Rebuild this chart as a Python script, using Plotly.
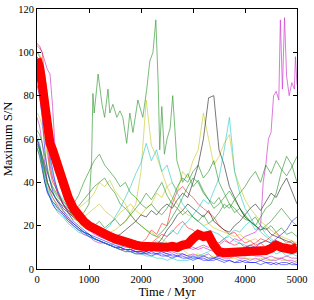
import plotly.graph_objects as go

# Common time grid (Myr)
T = [0, 50, 100, 150, 200, 250, 300, 350, 400, 450, 500,
     600, 700, 800, 900, 1000,
     1100, 1200, 1300, 1400, 1500, 1600, 1700, 1800, 1900, 2000,
     2100, 2200, 2300, 2400, 2500, 2600, 2700, 2800, 2900, 3000,
     3100, 3200, 3300, 3400, 3500, 3600, 3700, 3800, 3900, 4000,
     4100, 4200, 4300, 4400, 4500, 4600, 4700, 4800, 4900, 5000]

run_a = [104, 103, 100, 88, 70, 58, 50, 45, 42, 38, 36,
         32, 28, 25, 22, 20,
         18, 17, 15, 16, 14, 13, 12, 13, 11, 12,
         14, 18, 16, 21, 20, 30, 36, 38, 35, 33,
         30, 28, 26, 24, 20, 18, 16, 17, 14, 12,
         13, 11, 12, 10, 11, 9, 10, 8, 9, 8]
run_b = [103, 102, 100, 96, 92, 90, 75, 55, 45, 40, 37,
         33, 28, 24, 21, 19,
         17, 15, 14, 13, 12, 11, 10, 10, 9, 9,
         8, 9, 8, 8, 7, 8, 7, 7, 6, 7,
         6, 6, 7, 5, 6, 5, 5, 6, 5, 5,
         4, 5, 4, 5, 4, 4, 5, 4, 4, 3]
run_c = [100, 99, 96, 85, 72, 60, 52, 46, 43, 40, 38,
         33, 30, 28, 30, 32,
         35, 40, 38, 41, 36, 33, 30, 25, 22, 20,
         18, 17, 15, 14, 12, 10, 8, 9, 7, 6,
         7, 6, 5, 6, 5, 6, 5, 5, 4, 5,
         5, 4, 5, 4, 4, 5, 4, 4, 3, 4]
run_d = [72, 70, 66, 60, 52, 46, 42, 38, 35, 32, 30,
         26, 24, 21, 19, 18,
         17, 18, 16, 17, 18, 20, 22, 26, 30, 45,
         78, 57, 52, 45, 38, 33, 30, 27, 25, 24,
         22, 20, 21, 19, 18, 17, 16, 15, 16, 14,
         13, 14, 12, 13, 12, 11, 12, 10, 11, 10]
run_e = [58, 55, 50, 44, 38, 35, 33, 31, 30, 28, 27,
         25, 23, 22, 24, 26,
         28, 30, 27, 25, 23, 26, 28, 30, 27, 25,
         28, 30, 35, 33, 38, 40, 36, 45, 42, 50,
         55, 72, 60, 48, 52, 58, 62, 45, 38, 32,
         28, 25, 22, 20, 18, 16, 15, 14, 13, 12]
run_f = [60, 57, 52, 45, 40, 37, 35, 33, 31, 30, 28,
         26, 24, 22, 20, 18,
         17, 16, 15, 14, 15, 16, 18, 20, 22, 25,
         24, 27, 25, 28, 30, 28, 32, 35, 33, 40,
         48, 60, 79, 80, 55, 48, 38, 33, 28, 24,
         22, 20, 18, 19, 16, 15, 14, 13, 12, 11]
run_g = [56, 52, 46, 40, 36, 33, 31, 30, 28, 27, 26,
         23, 21, 19, 17, 16,
         14, 13, 12, 11, 10, 9, 8, 8, 7, 7,
         8, 9, 11, 14, 18, 21, 25, 27, 30, 28,
         26, 24, 27, 22, 20, 18, 17, 20, 22, 25,
         28, 30, 27, 31, 35, 33, 38, 42, 36, 30]
run_h = [96, 94, 88, 75, 60, 50, 44, 40, 36, 34, 32,
         28, 25, 22, 20, 18,
         17, 16, 18, 20, 24, 28, 33, 38, 44, 49,
         58, 50, 55, 45, 48, 40, 35, 30, 27, 24,
         22, 20, 18, 17, 16, 14, 15, 13, 12, 11,
         10, 9, 10, 8, 9, 7, 8, 6, 7, 6]
run_i = [62, 58, 50, 42, 36, 33, 30, 28, 26, 25, 24,
         21, 19, 17, 16, 15,
         14, 13, 12, 11, 12, 10, 11, 9, 10, 9,
         10, 11, 13, 12, 15, 18, 16, 20, 22, 25,
         28, 32, 30, 36, 42, 55, 70, 45, 35, 28,
         24, 20, 17, 15, 13, 12, 10, 9, 8, 7]
run_j = [100, 98, 95, 90, 80, 66, 56, 48, 42, 38, 35,
         32, 30, 34, 40, 45,
         50, 53, 48, 45, 42, 38, 40, 35, 33, 30,
         28, 30, 27, 25, 28, 32, 38, 42, 40, 45,
         48, 42, 45, 50, 40, 35, 30, 28, 25, 23,
         22, 20, 24, 28, 30, 35, 45, 52, 48, 40]
run_k = [58, 56, 52, 48, 44, 40, 37, 35, 33, 32, 30,
         28, 27, 29, 32, 35,
         38, 40, 42, 38, 35, 30, 28, 25, 22, 20,
         18, 16, 15, 17, 20, 24, 28, 33, 38, 42,
         40, 35, 32, 28, 30, 33, 36, 32, 28, 25,
         22, 20, 18, 20, 22, 25, 28, 25, 22, 20]
run_l = [98, 96, 92, 80, 65, 52, 45, 40, 36, 33, 30,
         26, 22, 20, 18, 16,
         14, 13, 12, 11, 10, 10, 9, 9, 8, 8,
         7, 8, 7, 7, 6, 7, 6, 6, 5, 6,
         5, 6, 5, 5, 6, 7, 6, 8, 9, 10,
         11, 10, 12, 13, 12, 14, 16, 18, 22, 24]
run_m = [60, 55, 48, 40, 35, 33, 30, 28, 27, 26, 25,
         22, 20, 18, 17, 16,
         15, 14, 13, 12, 11, 10, 9, 9, 8, 8,
         8, 7, 7, 8, 7, 6, 6, 7, 6, 5,
         5, 5, 4, 4, 5, 4, 4, 3, 4, 3,
         3, 3, 4, 3, 3, 2, 3, 3, 2, 2]
run_n = [95, 92, 85, 70, 55, 45, 40, 38, 35, 33, 30,
         27, 25, 23, 21, 19,
         17, 16, 15, 14, 13, 12, 11, 12, 11, 10,
         11, 12, 14, 16, 15, 17, 20, 22, 19, 18,
         16, 14, 15, 13, 12, 14, 12, 11, 12, 10,
         11, 12, 14, 13, 15, 17, 14, 12, 13, 11]
run_o = [85, 80, 70, 55, 45, 40, 36, 33, 31, 29, 27,
         24, 21, 19, 17, 15,
         14, 13, 12, 11, 10, 9, 9, 8, 8, 7,
         7, 6, 7, 6, 6, 5, 6, 5, 5, 4,
         5, 4, 4, 5, 4, 3, 4, 3, 3, 4,
         3, 3, 2, 3, 2, 3, 2, 2, 3, 2]
run_p = [70, 66, 58, 48, 40, 36, 33, 31, 29, 27, 26,
         23, 20, 18, 16, 15,
         13, 12, 12, 11, 10, 10, 9, 9, 8, 8,
         9, 8, 9, 10, 9, 11, 10, 12, 11, 10,
         9, 10, 9, 8, 9, 8, 7, 8, 7, 6,
         7, 6, 6, 5, 6, 5, 5, 6, 5, 5]
run_q = [56, 53, 47, 41, 37, 34, 31, 29, 28, 27, 25,
         22, 20, 18, 17, 15,
         14, 13, 12, 11, 10, 9, 9, 8, 7, 7,
         6, 6, 5, 5, 4, 5, 4, 4, 4, 5,
         6, 7, 8, 10, 12, 14, 16, 18, 17, 20,
         22, 18, 20, 16, 14, 12, 11, 10, 9, 8]
run_r = [64, 62, 58, 52, 46, 41, 38, 36, 34, 33, 31,
         29, 27, 25, 23, 21,
         20, 22, 19, 21, 23, 20, 22, 25, 28, 31,
         35, 32, 36, 40, 34, 30, 28, 25, 27, 24,
         22, 25, 21, 23, 26, 30, 28, 32, 35, 38,
         42, 45, 40, 48, 44, 50, 46, 43, 47, 52]

# Magenta run with a late rise (own time grid)
T_mag = [0, 50, 100, 150, 200, 250, 300, 350, 400, 450, 500,
         600, 700, 800, 900, 1000,
         1100, 1200, 1300, 1400, 1500, 1600, 1700, 1800, 1900, 2000,
         2100, 2200, 2300, 2400, 2500, 2600, 2700, 2800, 2900, 3000,
         3100, 3200, 3300, 3400, 3500, 3600, 3700, 3800, 3900, 4000,
         4100, 4200, 4300, 4350, 4400, 4450, 4500, 4550, 4600, 4650,
         4680, 4720, 4760, 4800, 4850, 4900, 4950, 4970, 5000]
run_mag = [90, 88, 82, 70, 58, 48, 42, 38, 35, 32, 30,
           27, 24, 22, 20, 18,
           16, 15, 14, 13, 12, 12, 11, 10, 10, 9,
           10, 9, 9, 10, 8, 9, 8, 9, 10, 9,
           10, 11, 10, 12, 11, 13, 12, 14, 13, 15,
           16, 17, 20, 40, 48, 60, 63, 80, 82, 78,
           115, 83, 116, 89, 80, 86, 83, 98, 85]

# Green run with a mid-time excursion (own time grid)
T_grn = [0, 50, 100, 150, 200, 250, 300, 350, 400, 450, 500,
         600, 700, 800, 900, 1000, 1050, 1075, 1100, 1175, 1250,
         1300, 1365, 1400, 1460, 1535, 1595, 1650, 1725, 1785, 1845,
         1940, 2035, 2110, 2170, 2230, 2285, 2330, 2360, 2400, 2450,
         2500, 2560, 2610, 2690, 2750, 2800, 2900, 3000,
         3100, 3200, 3300, 3400, 3500, 3600, 3700, 3800, 3900, 4000,
         4100, 4200, 4300, 4400, 4500, 4600, 4700, 4800, 4900, 5000]
run_grn = [57, 55, 50, 45, 40, 37, 35, 33, 32, 30, 29,
           27, 25, 24, 26, 30, 50, 81, 72, 90, 76,
           70, 83, 72, 76, 70, 73, 70, 58, 72, 63,
           78, 70, 83, 96, 100, 115, 86, 55, 75, 53,
           60, 65, 80, 50, 45, 40, 44, 38,
           41, 36, 32, 30, 33, 28, 30, 26, 28, 24,
           22, 24, 20, 18, 20, 17, 19, 16, 17, 15]

# Median of all runs
median = [97, 93, 85, 75, 65, 58, 55, 51, 47, 43, 39,
          33, 28, 24, 22, 20,
          18.5, 17, 16, 15, 14, 13, 12.2, 11.5, 11, 10.5,
          10.2, 10, 9.8, 9.8, 10, 10.5, 10, 11, 11.5, 14,
          16, 15, 15.5, 11, 8, 7.5, 7.5, 7.5, 7.8, 8,
          7.5, 7.5, 8, 8.5, 9.5, 11, 10, 9, 9, 10]

C = {"b": "#0000ff", "g": "#008000", "r": "#ff0000", "c": "#00bfbf",
     "m": "#bf00bf", "y": "#bfbf00", "k": "#000000"}

runs = [
    (T, run_a, "r"), (T, run_b, "m"), (T, run_c, "y"), (T, run_d, "y"),
    (T, run_e, "y"), (T, run_f, "k"), (T, run_g, "k"), (T, run_h, "c"),
    (T, run_i, "c"), (T, run_j, "g"), (T, run_k, "g"), (T, run_l, "b"),
    (T, run_m, "b"), (T, run_n, "r"), (T, run_o, "b"), (T, run_p, "m"),
    (T, run_q, "c"), (T, run_r, "g"),
    (T_mag, run_mag, "m"), (T_grn, run_grn, "g"),
]

fig = go.Figure()
for tx, vals, col in runs:
    fig.add_trace(go.Scatter(x=tx, y=vals, mode="lines",
                             line=dict(color=C[col], width=0.7),
                             opacity=0.75, showlegend=False, hoverinfo="skip"))
fig.add_trace(go.Scatter(x=T, y=median, mode="lines",
                         line=dict(color="#ff0000", width=9),
                         showlegend=False, hoverinfo="skip"))

font = "Liberation Serif, Times New Roman, serif"
axis_common = dict(showgrid=False, zeroline=False, showline=True,
                   linecolor="black", linewidth=1, mirror="ticks",
                   ticks="inside", ticklen=4, tickcolor="black",
                   tickfont=dict(family=font, size=10.5, color="black"))
fig.update_xaxes(range=[0, 5000], tickvals=[0, 1000, 2000, 3000, 4000, 5000],
                 title=dict(text="Time / Myr", font=dict(family=font, size=12.5, color="black"),
                            standoff=2),
                 **axis_common)
fig.update_yaxes(range=[0, 120], tickvals=[0, 20, 40, 60, 80, 100, 120],
                 title=dict(text="Maximum S/N", font=dict(family=font, size=12.5, color="black"),
                            standoff=2),
                 **axis_common)
fig.update_layout(width=314, height=300,
                  margin=dict(l=37, r=17, t=9, b=31, autoexpand=False),
                  paper_bgcolor="white", plot_bgcolor="white")
fig.write_html("out.html", config={"displayModeBar": False},
               post_script="document.body.style.margin='0';document.body.style.overflow='hidden';")
